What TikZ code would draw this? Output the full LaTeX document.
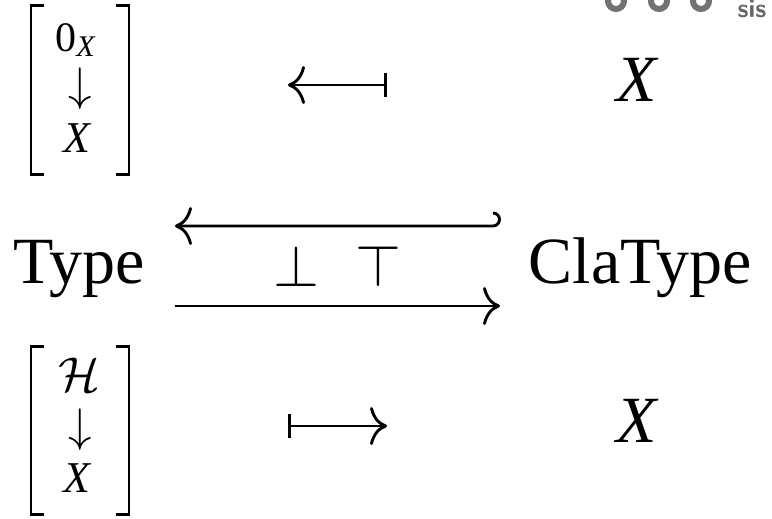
\documentclass[tikz,border=0pt]{standalone}
\usepackage{fontspec}
\setmainfont{Liberation Serif}
\usetikzlibrary{arrows.meta}
\begin{document}
\begin{tikzpicture}[x=1pt,y=-1pt, line width=2.9pt,
  >={Computer Modern Rightarrow[length=17pt,width=38pt]},
  lbl/.style={inner sep=0pt, anchor=base},
  big/.style={font=\fontsize{66}{66}\selectfont},
  bigit/.style={font=\fontsize{66}{66}\selectfont\itshape},
  midit/.style={font=\fontsize{44}{44}\selectfont\itshape},
  sym/.style={inner sep=0pt, scale=4.7},
  bk/.style={line width=2.8pt},
  brk/.style={inner sep=0pt, minimum width=95pt},
  deco/.style={draw=black!55, line width=6pt}]
\useasboundingbox (0,0) rectangle (772,519);
\clip (0,0) rectangle (772,519);

% top bracket
\node[brk, minimum height=166pt] (b1) at (80,90) {};
\draw[bk] ([xshift=13pt]b1.north west) -- (b1.north west) -- (b1.south west) -- ([xshift=13pt]b1.south west);
\draw[bk] ([xshift=-13pt]b1.north east) -- (b1.north east) -- (b1.south east) -- ([xshift=-13pt]b1.south east);
\node[inner sep=0pt, anchor=base west, font=\fontsize{42}{42}\selectfont] (zero) at (54,52)
  {0\raisebox{-5pt}{\fontsize{30}{30}\selectfont\itshape X}};
\node[sym] (d1) at (80,89) {$\downarrow$};
\node[lbl, midit] (x1) at (77,152) {X};

% bottom bracket
\node[brk, minimum height=165pt] (b2) at (80,430.5) {};
\draw[bk] ([xshift=13pt]b2.north west) -- (b2.north west) -- (b2.south west) -- ([xshift=13pt]b2.south west);
\draw[bk] ([xshift=-13pt]b2.north east) -- (b2.north east) -- (b2.south east) -- ([xshift=-13pt]b2.south east);
\node[sym, scale=1.04] (hh) at (79,375) {$\mathcal{H}$};
\node[sym] (d2) at (80,430) {$\downarrow$};
\node[lbl, midit] (x2) at (77,492) {X};

% right X's
\node[lbl, bigit] (xr1) at (637,102) {X};
\node[lbl, bigit] (xr2) at (637,442) {X};

% Type / ClaType
\node[lbl, big] (type) at (79,283) {Type};
\node[lbl, big] (cla) at (640,283) {ClaType};

% maps
\coordinate (m1a) at (387,85);
\coordinate (m1b) at (288,85);
\draw[arrows={Bar[width=24pt]->}] (m1a) -- (m1b);
\coordinate (m2a) at (288,426);
\coordinate (m2b) at (387,426);
\draw[arrows={Bar[width=24pt]->}] (m2a) -- (m2b);

% adjunction
\coordinate (h1) at (493,213);
\coordinate (l1) at (175,226);
\draw[->] (h1) arc[start angle=-90, end angle=90, radius=6.5] -- (l1);
\coordinate (l2a) at (175,306);
\coordinate (l2b) at (500,306);
\draw[->] (l2a) -- (l2b);
\node[inner sep=0pt, scale=5.9] (perp) at (296.5,266.5) {$\perp$};
\node[inner sep=0pt, scale=5.9] (topp) at (378,266.5) {$\top$};

% cropped corner decoration
\draw[deco] (616,1) circle (8);
\draw[deco] (659,1) circle (8);
\draw[deco] (701,1) circle (8);
\node[lbl, text=black!60, font=\fontsize{26}{26}\sffamily\bfseries] (sis) at (752,18) {sis};
\end{tikzpicture}
\end{document}
